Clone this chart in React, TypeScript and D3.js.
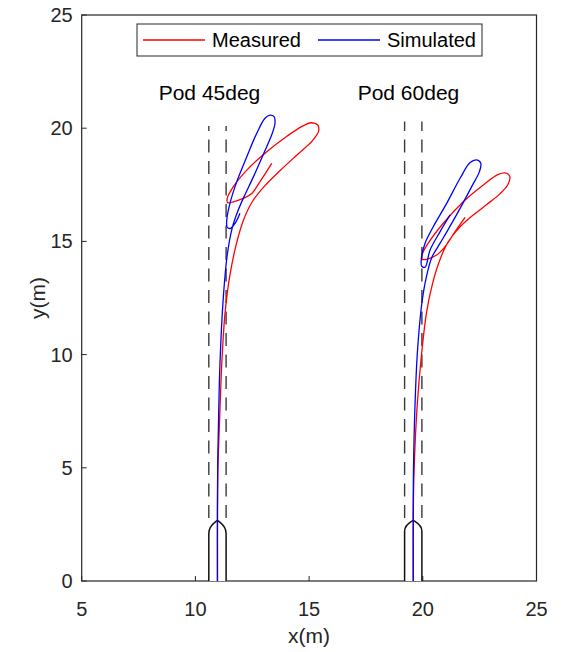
import React, { useEffect, useRef } from 'react';
import * as d3 from 'd3';

const xTicks = [5, 10, 15, 20, 25];
const yTicks = [0, 5, 10, 15, 20, 25];

const podLabels = ['Pod 45deg', 'Pod 60deg'];
const podLabelX = [10.62, 19.37];
const podLabelY = 21.25;
const podCenters = [10.97, 19.58];
const podHalfWidth = 0.38;
const podShoulder = [2.1, 2.2];
const podTop = [2.68, 2.68];
const laneTop = [20.1, 20.3];

const legendLabels = ['Measured', 'Simulated'];
const seriesColors = ['#ff0000', '#0000ff'];

// [x, y] in metres
const measured45 = [
  [10.97, 0], [10.97, 3], [10.99, 5], [11.05, 6.7], [11.16, 9.6], [11.3, 11.8],
  [11.5, 13.4], [11.78, 14.8], [12.1, 15.9], [12.5, 16.75], [13.05, 17.45],
  [13.75, 18.15], [14.5, 18.85], [15.15, 19.45], [15.42, 19.88],
  [15.38, 20.14], [15.11, 20.24], [14.67, 20.07], [14.01, 19.63], [13.14, 18.96],
  [12.26, 18.15], [11.67, 17.42], [11.4, 16.9], [11.42, 16.71], [11.67, 16.75],
  [12.11, 16.9], [12.48, 17.12], [12.84, 17.64], [13.36, 18.45],
];

const simulated45 = [
  [10.97, 0], [10.97, 3], [10.98, 5], [11.01, 6.7], [11.08, 9.6], [11.23, 12.56],
  [11.4, 14.4], [11.62, 15.6], [11.85, 16.3], [12.15, 17.0], [12.55, 17.85],
  [12.99, 18.85], [13.36, 19.72], [13.5, 20.22], [13.46, 20.51],
  [13.28, 20.58], [13.06, 20.44], [12.7, 19.78], [12.26, 18.74], [11.82, 17.64],
  [11.52, 16.68], [11.38, 15.95], [11.4, 15.62], [11.55, 15.58], [11.79, 15.87],
  [11.96, 16.24],
];

const measured60 = [
  [19.58, 0], [19.58, 3], [19.62, 5], [19.76, 7.85], [19.95, 10.06], [20.17, 11.9],
  [20.42, 13.1], [20.72, 14.1], [21.1, 14.95], [21.6, 15.6], [22.2, 16.15],
  [22.8, 16.62], [23.39, 17.1], [23.73, 17.49], [23.83, 17.86],
  [23.69, 18.01], [23.32, 17.96], [22.66, 17.49], [21.78, 16.75], [20.9, 15.8],
  [20.24, 14.92], [19.99, 14.47], [19.95, 14.21], [20.17, 14.21], [20.61, 14.4],
  [20.98, 14.77], [21.42, 15.43], [21.86, 16.06],
];

const simulated60 = [
  [19.58, 0], [19.58, 3], [19.59, 4.9], [19.66, 7.85], [19.76, 10.06], [19.95, 12.2],
  [20.15, 13.4], [20.4, 14.3], [20.75, 14.9], [21.1, 15.5], [21.64, 16.46],
  [22.15, 17.42], [22.49, 18.08], [22.55, 18.45], [22.37, 18.6], [22.08, 18.48],
  [21.64, 17.79], [21.05, 16.68], [20.46, 15.65], [20.1, 14.92], [19.95, 14.32],
  [19.95, 13.91], [20.1, 13.86], [20.32, 14.62], [20.76, 15.43], [21.2, 16.17],
];

const measuredRuns = [measured45, measured60];
const simulatedRuns = [simulated45, simulated60];

const App = () => {
  const ref = useRef<SVGSVGElement>(null);

  useEffect(() => {
    const svg = d3.select(ref.current);
    svg.selectAll('*').remove();

    const font = '"Liberation Sans", Arial, Helvetica, sans-serif';
    const axisColor = '#262626';

    const x = d3.scaleLinear().domain([5, 25]).range([81.7, 536.5]);
    const y = d3.scaleLinear().domain([0, 25]).range([581, 15]);

    // axes box
    svg
      .append('rect')
      .attr('x', x(5))
      .attr('y', y(25))
      .attr('width', x(25) - x(5))
      .attr('height', y(0) - y(25))
      .attr('fill', 'white')
      .attr('stroke', axisColor)
      .attr('stroke-width', 1.2);

    // inward ticks
    svg
      .selectAll('.xtick')
      .data(xTicks)
      .enter()
      .append('line')
      .attr('x1', (d) => x(d))
      .attr('x2', (d) => x(d))
      .attr('y1', y(0))
      .attr('y2', y(0) - 5)
      .attr('stroke', axisColor);

    svg
      .selectAll('.ytick')
      .data(yTicks)
      .enter()
      .append('line')
      .attr('x1', x(5))
      .attr('x2', x(5) + 5)
      .attr('y1', (d) => y(d))
      .attr('y2', (d) => y(d))
      .attr('stroke', axisColor);

    svg
      .selectAll('.xlabel')
      .data(xTicks)
      .enter()
      .append('text')
      .attr('x', (d) => x(d))
      .attr('y', y(0) + 35)
      .attr('text-anchor', 'middle')
      .attr('font-family', font)
      .attr('font-size', 20)
      .attr('fill', axisColor)
      .text((d) => d);

    svg
      .selectAll('.ylabel')
      .data(yTicks)
      .enter()
      .append('text')
      .attr('x', x(5) - 9)
      .attr('y', (d) => y(d) + 7)
      .attr('text-anchor', 'end')
      .attr('font-family', font)
      .attr('font-size', 20)
      .attr('fill', axisColor)
      .text((d) => d);

    svg
      .append('text')
      .attr('x', (x(5) + x(25)) / 2)
      .attr('y', 643)
      .attr('text-anchor', 'middle')
      .attr('font-family', font)
      .attr('font-size', 21)
      .attr('fill', axisColor)
      .text('x(m)');

    svg
      .append('text')
      .attr('transform', `translate(45,${(y(0) + y(25)) / 2}) rotate(-90)`)
      .attr('text-anchor', 'middle')
      .attr('font-family', font)
      .attr('font-size', 21)
      .attr('fill', axisColor)
      .text('y(m)');

    // dashed lane boundaries
    podCenters.forEach((c, i) => {
      [c - podHalfWidth, c + podHalfWidth].forEach((lx) => {
        svg
          .append('line')
          .attr('x1', x(lx))
          .attr('x2', x(lx))
          .attr('y1', y(podTop[i] + 0.1))
          .attr('y2', y(laneTop[i]))
          .attr('stroke', '#3a3a3a')
          .attr('stroke-width', 1.4)
          .attr('stroke-dasharray', '13 8.5');
      });
    });

    // pods: white fill hides the axis line, outline drawn open at the bottom
    podCenters.forEach((c, i) => {
      const l = x(c - podHalfWidth);
      const r = x(c + podHalfWidth);
      const m = x(c);
      const hw = m - l;
      const sh = y(podShoulder[i]);
      const tp = y(podTop[i]);
      const base = y(0);
      const h = sh - tp;
      const arch =
        `M${l},${base} L${l},${sh} C${l},${sh - 0.6 * h} ${m - 0.35 * hw},${tp + 0.2 * h} ${m},${tp} ` +
        `C${m + 0.35 * hw},${tp + 0.2 * h} ${r},${sh - 0.6 * h} ${r},${sh} L${r},${base}`;
      svg.append('path').attr('d', arch + ' Z').attr('fill', 'white').attr('stroke', 'none');
      svg
        .append('path')
        .attr('d', arch)
        .attr('fill', 'none')
        .attr('stroke', '#111')
        .attr('stroke-width', 1.5);
    });

    const line = d3
      .line<number[]>()
      .x((d) => x(d[0]))
      .y((d) => y(d[1]))
      .curve(d3.curveCatmullRom.alpha(0.5));

    [measuredRuns, simulatedRuns].forEach((runs, k) => {
      runs.forEach((run) => {
        svg
          .append('path')
          .attr('d', line(run))
          .attr('fill', 'none')
          .attr('stroke', seriesColors[k])
          .attr('stroke-width', 1.3);
      });
    });

    podLabels.forEach((t, i) => {
      svg
        .append('text')
        .attr('x', x(podLabelX[i]))
        .attr('y', y(podLabelY))
        .attr('text-anchor', 'middle')
        .attr('font-family', font)
        .attr('font-size', 21)
        .attr('fill', '#000')
        .text(t);
    });

    // legend
    const lg = svg.append('g');
    lg.append('rect')
      .attr('x', 137)
      .attr('y', 24)
      .attr('width', 345)
      .attr('height', 32)
      .attr('fill', 'white')
      .attr('stroke', axisColor)
      .attr('stroke-width', 1);
    const legendX = [143, 318];
    legendLabels.forEach((t, i) => {
      lg.append('line')
        .attr('x1', legendX[i])
        .attr('x2', legendX[i] + 62)
        .attr('y1', 40)
        .attr('y2', 40)
        .attr('stroke', seriesColors[i])
        .attr('stroke-width', 1.3);
      lg.append('text')
        .attr('x', legendX[i] + 69)
        .attr('y', 47)
        .attr('font-family', font)
        .attr('font-size', 20)
        .attr('fill', '#000')
        .text(t);
    });
  }, []);

  return (
    <svg
      ref={ref}
      width={563}
      height={652}
      style={{ position: 'absolute', left: 0, top: 0, background: 'white' }}
    />
  );
};

export default App;
